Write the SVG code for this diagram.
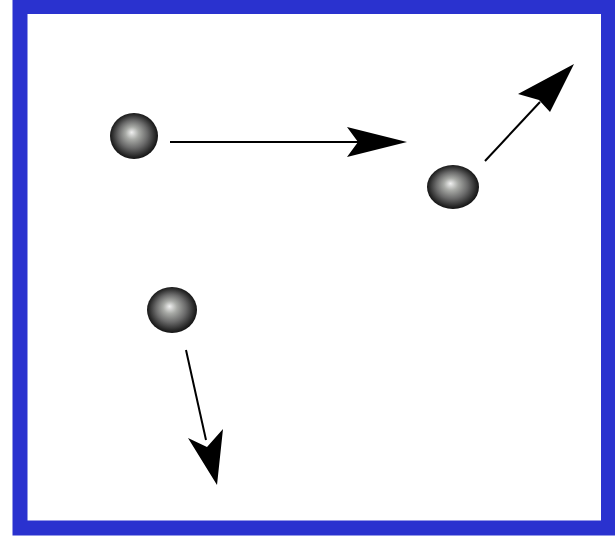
<svg xmlns="http://www.w3.org/2000/svg" width="615" height="537" viewBox="0 0 615 537">
<defs>
<radialGradient id="ball" cx="50%" cy="50%" r="55%" fx="45%" fy="42%">
<stop offset="0" stop-color="#f0f0f0"/>
<stop offset="0.25" stop-color="#a8aaa6"/>
<stop offset="0.55" stop-color="#6a6a6a"/>
<stop offset="0.8" stop-color="#2e2e2e"/>
<stop offset="1" stop-color="#000"/>
</radialGradient>
<style>
.ball{fill:url(#ball)}
.line{stroke:#000;stroke-width:2;fill:none}
.head{fill:#000}
</style>
</defs>
<rect x="0" y="0" width="615" height="537" fill="#fff"/>
<rect x="20" y="6.5" width="588.5" height="521.5" fill="#fff" stroke="#2a32cf" stroke-width="15"/>
<g id="ball1"><ellipse class="ball" cx="134" cy="136" rx="24" ry="23"/></g>
<g id="ball2"><ellipse class="ball" cx="453" cy="187" rx="26" ry="22"/></g>
<g id="ball3"><ellipse class="ball" cx="172" cy="310" rx="25" ry="23"/></g>
<g id="connectors">
<line class="line" x1="170" y1="142" x2="400" y2="142"/>
<polygon class="head" points="407,142 347,127 358,142 347,157"/>
<line class="line" x1="485" y1="161" x2="540" y2="102"/>
<polygon class="head" points="574,64 518,94 539,100 550,112"/>
<line class="line" x1="186" y1="350" x2="206" y2="440"/>
<polygon class="head" points="217,485 188,438 207,447 223,429"/>
</g>
</svg>
